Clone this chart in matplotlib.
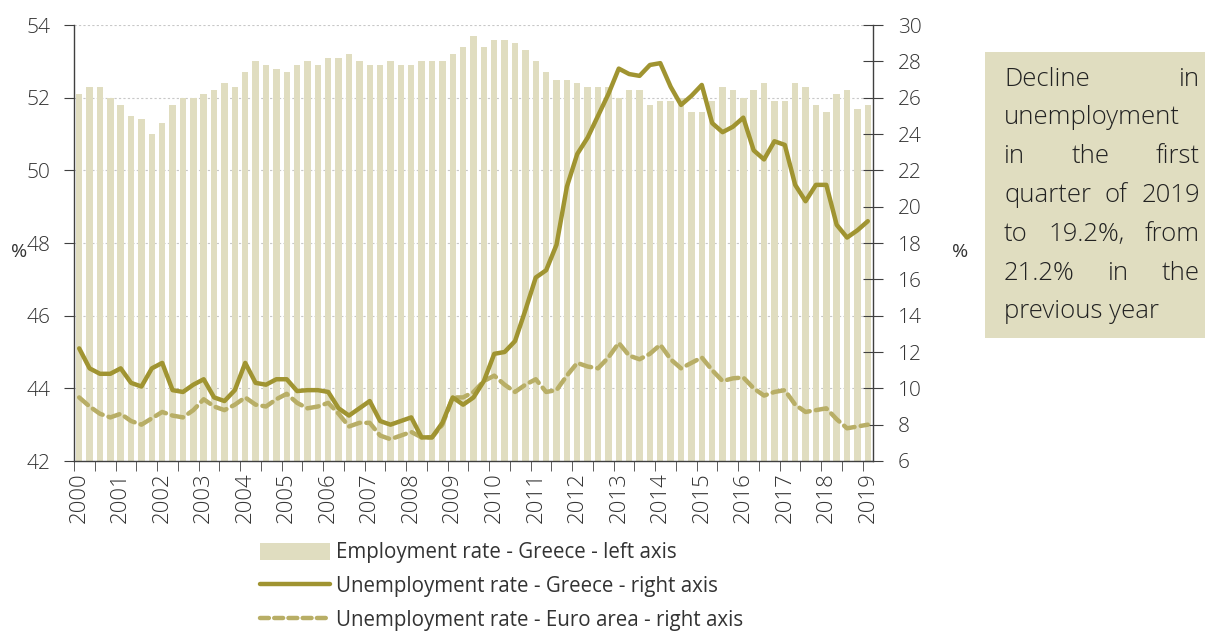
import matplotlib
matplotlib.use("Agg")
import matplotlib.pyplot as plt
from matplotlib.patches import Patch, Rectangle
from matplotlib.lines import Line2D
import numpy as np

# quarterly data, 2000Q1 .. 2019Q1
years = list(range(2000, 2020))
employment_gr = [52.1, 52.3, 52.3, 52.0, 51.8, 51.5, 51.4, 51.0, 51.3, 51.8,
                 52.0, 52.0, 52.1, 52.2, 52.4, 52.3, 52.7, 53.0, 52.9, 52.8,
                 52.7, 52.9, 53.0, 52.9, 53.1, 53.1, 53.2, 53.0, 52.9, 52.9,
                 53.0, 52.9, 52.9, 53.0, 53.0, 53.0, 53.2, 53.4, 53.7, 53.4,
                 53.6, 53.6, 53.5, 53.3, 53.0, 52.7, 52.5, 52.5, 52.4, 52.3,
                 52.3, 52.3, 52.0, 52.2, 52.2, 51.8, 51.9, 51.9, 52.0, 51.6,
                 51.6, 51.9, 52.3, 52.2, 52.0, 52.2, 52.4, 51.9, 51.9, 52.4,
                 52.3, 51.8, 51.6, 52.1, 52.2, 51.7, 51.8]
unemployment_gr = [12.2, 11.1, 10.8, 10.8, 11.1, 10.3, 10.1, 11.1, 11.4, 9.9,
                   9.8, 10.2, 10.5, 9.5, 9.3, 9.9, 11.4, 10.3, 10.2, 10.5,
                   10.5, 9.85, 9.9, 9.9, 9.8, 8.9, 8.5, 8.9, 9.3, 8.2,
                   8.0, 8.2, 8.4, 7.3, 7.3, 8.1, 9.5, 9.1, 9.5, 10.4,
                   11.9, 12.0, 12.6, 14.3, 16.1, 16.5, 17.9, 21.1, 22.9, 23.8,
                   25.0, 26.2, 27.6, 27.3, 27.2, 27.8, 27.9, 26.6, 25.6, 26.1,
                   26.7, 24.6, 24.1, 24.4, 24.9, 23.1, 22.6, 23.6, 23.4, 21.2,
                   20.3, 21.2, 21.2, 19.0, 18.3, 18.7, 19.2]
unemployment_ea = [9.5, 9.0, 8.6, 8.4, 8.6, 8.2, 8.0, 8.35, 8.7, 8.5,
                   8.4, 8.8, 9.4, 9.0, 8.8, 9.1, 9.5, 9.1, 9.0, 9.4,
                   9.7, 9.2, 8.9, 9.0, 9.2, 8.6, 7.9, 8.1, 8.1, 7.4,
                   7.2, 7.4, 7.6, 7.3, 7.3, 8.0, 9.5, 9.5, 9.8, 10.4,
                   10.7, 10.2, 9.8, 10.2, 10.5, 9.8, 9.9, 10.7, 11.4, 11.2,
                   11.1, 11.7, 12.5, 11.8, 11.6, 11.9, 12.4, 11.6, 11.1, 11.4,
                   11.7, 11.0, 10.4, 10.55, 10.6, 10.0, 9.6, 9.8, 9.9, 9.1,
                   8.7, 8.8, 8.9, 8.3, 7.8, 7.9, 8.0]
labels = ["Employment rate - Greece - left axis",
          "Unemployment rate - Greece - right axis",
          "Unemployment rate - Euro area - right axis"]
note_lines = ["Decline in", "unemployment", "in the first", "quarter of 2019",
              "to 19.2%, from", "21.2% in the", "previous year"]

bar_c = "#e0ddc0"
gr_c = "#a09431"
ea_c = "#b8ae66"
txt_c = "#333333"
font = "Open Sans"

W, H = 1205, 631
fig = plt.figure(figsize=(W / 100, H / 100), dpi=100)
ax = fig.add_axes([74 / W, 1 - 461 / H, (873 - 74) / W, (461 - 25) / H])

x = np.arange(len(employment_gr))
ax.bar(x, employment_gr, width=0.62, color=bar_c, zorder=2)
ax.set_xlim(-0.5, len(x) - 0.5)
ax.set_ylim(42, 54)
ax.set_yticks(np.arange(42, 55, 2))
ax.yaxis.grid(True, color="#c8c8c8", lw=0.8, ls=(0, (2, 2)))
ax.set_axisbelow(True)

ax2 = ax.twinx()
ax2.plot(x, unemployment_gr, color=gr_c, lw=3.2, solid_capstyle="round",
         solid_joinstyle="round", zorder=4)
ax2.plot(x, unemployment_ea, color=ea_c, lw=3.2, dashes=(2.6, 1.4),
         dash_capstyle="round", zorder=3)
ax2.set_ylim(6, 30)
ax2.set_yticks(np.arange(6, 31, 2))

for a in (ax, ax2):
    a.spines["top"].set_visible(False)
    for s in a.spines.values():
        s.set_color("#404040")
        s.set_linewidth(1.0)
ax.spines["right"].set_visible(False)
ax2.spines["left"].set_visible(False)
ax2.spines["bottom"].set_visible(False)

# year labels at Q1, ticks at every second quarter boundary
ax.set_xticks(np.arange(0, len(x), 4))
ax.set_xticklabels([str(y) for y in years], rotation=90, fontsize=16,
                   color=txt_c, family=font, fontweight="light")
ax.tick_params(axis="x", which="major", length=0, pad=8)
ax.set_xticks(np.arange(-0.5, len(x), 2), minor=True)
ax.tick_params(axis="x", which="minor", length=7, direction="out",
               color="#404040")
ax.tick_params(axis="y", length=7, direction="out", color="#404040", pad=10,
               labelsize=15, labelcolor=txt_c)
ax2.tick_params(axis="y", length=14, direction="inout", color="#404040",
                pad=11, labelsize=15, labelcolor=txt_c)
for t in ax.get_yticklabels() + ax2.get_yticklabels():
    t.set_family(font)
    t.set_fontweight("light")

fig.text(19 / W, 1 - 252 / H, "%", fontsize=14, color=txt_c, family=font,
         ha="center", va="center")
fig.text(960 / W, 1 - 252 / H, "%", fontsize=14, color=txt_c, family=font,
         ha="center", va="center")

handles = [Patch(facecolor=bar_c, edgecolor="none"),
           Line2D([], [], color=gr_c, lw=3.2, solid_capstyle="round"),
           Line2D([], [], color=ea_c, lw=3.2, dashes=(2.0, 1.2),
                  dash_capstyle="round")]
fig.legend(handles, labels, loc="upper left",
           bbox_to_anchor=(252 / W, 1 - 534 / H), frameon=False,
           handlelength=3.4, handleheight=0.9, handletextpad=0.3,
           labelspacing=0.62, borderaxespad=0,
           prop={"family": font, "size": 14.8},
           labelcolor=txt_c)

# note box with justified text
fig.patches.append(Rectangle((985 / W, 1 - 338 / H), (W - 985) / W,
                             (338 - 52) / H, transform=fig.transFigure,
                             facecolor=bar_c, edgecolor="none", zorder=0))
renderer = fig.canvas.get_renderer()
left, right = 1004, 1200
y0, pitch = 79, 38.8
for i, line in enumerate(note_lines):
    yy = 1 - (y0 + i * pitch) / H
    words = line.split()
    kw = dict(fontsize=18.5, color="#222222", family=font, fontweight="light",
              va="center", ha="left")
    if len(words) == 1 or i == len(note_lines) - 1:
        fig.text(left / W, yy, line, **kw)
        continue
    arts = [fig.text(0, yy, w, **kw) for w in words]
    widths = [a.get_window_extent(renderer).width for a in arts]
    gap = (right - left - sum(widths)) / (len(words) - 1)
    pos = left
    for a, w in zip(arts, widths):
        a.set_x(pos / W)
        pos += w + gap

fig.savefig("out.png", dpi=100)
